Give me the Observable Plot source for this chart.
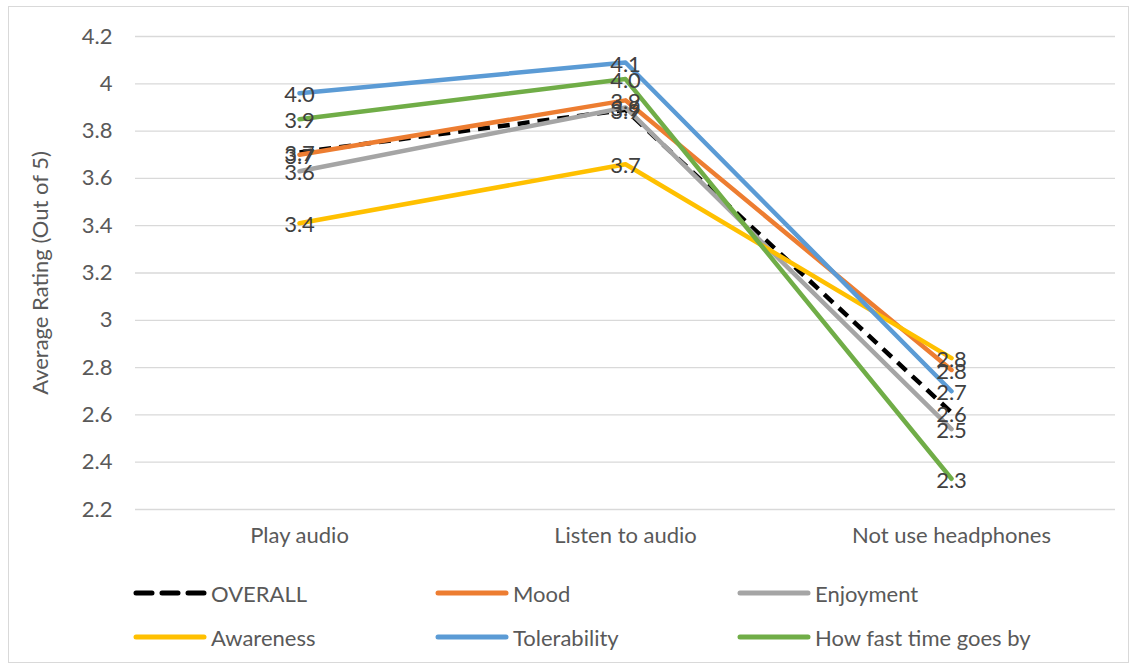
<!DOCTYPE html>
<html>
<head>
<meta charset="utf-8">
<script src="https://cdn.jsdelivr.net/npm/d3@7"></script>
<script src="https://cdn.jsdelivr.net/npm/@observablehq/plot@0.6"></script>
<style>
  html, body { margin: 0; padding: 0; background: #fff; }
  #frame { position: absolute; left: 8px; top: 6px; width: 1121px; height: 657px; border: 1px solid #d9d9d9; box-sizing: border-box; }
  #chart { position: absolute; left: 0; top: 0; }
  #legend { position: absolute; left: 0; top: 0; width: 1138px; font-family: Lato, "Open Sans", sans-serif; font-size: 22px; color: #595959; }
  .item { position: absolute; display: flex; align-items: center; height: 26px; }
  .item span { margin-left: 4px; white-space: nowrap; }
</style>
</head>
<body>
<div id="frame"></div>
<div id="chart"></div>
<div id="legend"></div>
<script>
// Average rating (out of 5) per behaviour and rated aspect
const categories = ["Play audio", "Listen to audio", "Not use headphones"];
const overall      = [3.71, 3.89, 2.61];
const mood         = [3.70, 3.93, 2.79];
const enjoyment    = [3.63, 3.90, 2.54];
const awareness    = [3.41, 3.66, 2.84];
const tolerability = [3.96, 4.09, 2.70];
const timeGoesBy   = [3.85, 4.02, 2.33];
const yTicks = [2.2, 2.4, 2.6, 2.8, 3, 3.2, 3.4, 3.6, 3.8, 4, 4.2];

const series = [
  {name: "OVERALL", values: overall, color: "#000000", dash: "12,8"},
  {name: "Mood", values: mood, color: "#ED7D31"},
  {name: "Enjoyment", values: enjoyment, color: "#A5A5A5"},
  {name: "Awareness", values: awareness, color: "#FFC000"},
  {name: "Tolerability", values: tolerability, color: "#5B9BD5"},
  {name: "How fast time goes by", values: timeGoesBy, color: "#70AD47"}
];

const rows = series.map(s => s.values.map((v, i) => ({series: s.name, category: categories[i], value: v})));
const allRows = rows.flat();
const font = "Lato, 'Open Sans', sans-serif";

const chart = Plot.plot({
  width: 1138,
  height: 560,
  marginLeft: 135,
  marginRight: 23,
  marginTop: 36,
  marginBottom: 51,
  style: {fontFamily: font, fontSize: "22px", color: "#595959", background: "transparent"},
  x: {type: "point", domain: categories, padding: 0.5},
  y: {domain: [2.2, 4.2]},
  marks: [
    Plot.ruleY(yTicks, {stroke: "#d9d9d9", strokeWidth: 1.3}),
    Plot.axisY({ticks: yTicks, tickSize: 0, tickPadding: 23, label: null, fill: "#595959", fontSize: 22, tickFormat: d => d3.format("")(+d.toFixed(1))}),
    Plot.axisX({tickSize: 0, tickPadding: 18, label: null, fill: "#595959", fontSize: 22}),
    Plot.text(["Average Rating (Out of 5)"], {frameAnchor: "left", textAnchor: "middle", dx: -95, rotate: -90, fill: "#595959", fontSize: 22}),
    ...series.map((s, k) => Plot.line(rows[k], {
      x: "category", y: "value",
      stroke: s.color, strokeWidth: 4.5,
      strokeDasharray: s.dash ?? null,
      strokeLinejoin: "round", strokeLinecap: s.dash ? "butt" : "round"
    })),
    Plot.text(allRows, {
      x: "category", y: "value",
      text: d => d3.format(".1f")(d.value),
      fill: "#404040", fontSize: 22, dy: 2
    })
  ]
});
document.getElementById("chart").append(chart);

// Legend: two rows of three entries below the chart
const legend = d3.select("#legend");
const colX = [133, 435, 737];
const rowY = [580, 624];
series.forEach((s, i) => {
  const item = legend.append("div").attr("class", "item")
    .style("left", colX[i % 3] + "px").style("top", rowY[Math.floor(i / 3)] + "px");
  const sw = item.append("svg").attr("width", 74).attr("height", 12);
  sw.append("line").attr("x1", 3).attr("x2", 71).attr("y1", 6).attr("y2", 6)
    .attr("stroke", s.color).attr("stroke-width", 5)
    .attr("stroke-linecap", "round")
    .attr("stroke-dasharray", s.dash ? "16,10" : null);
  item.append("span").text(s.name);
});
</script>
</body>
</html>
